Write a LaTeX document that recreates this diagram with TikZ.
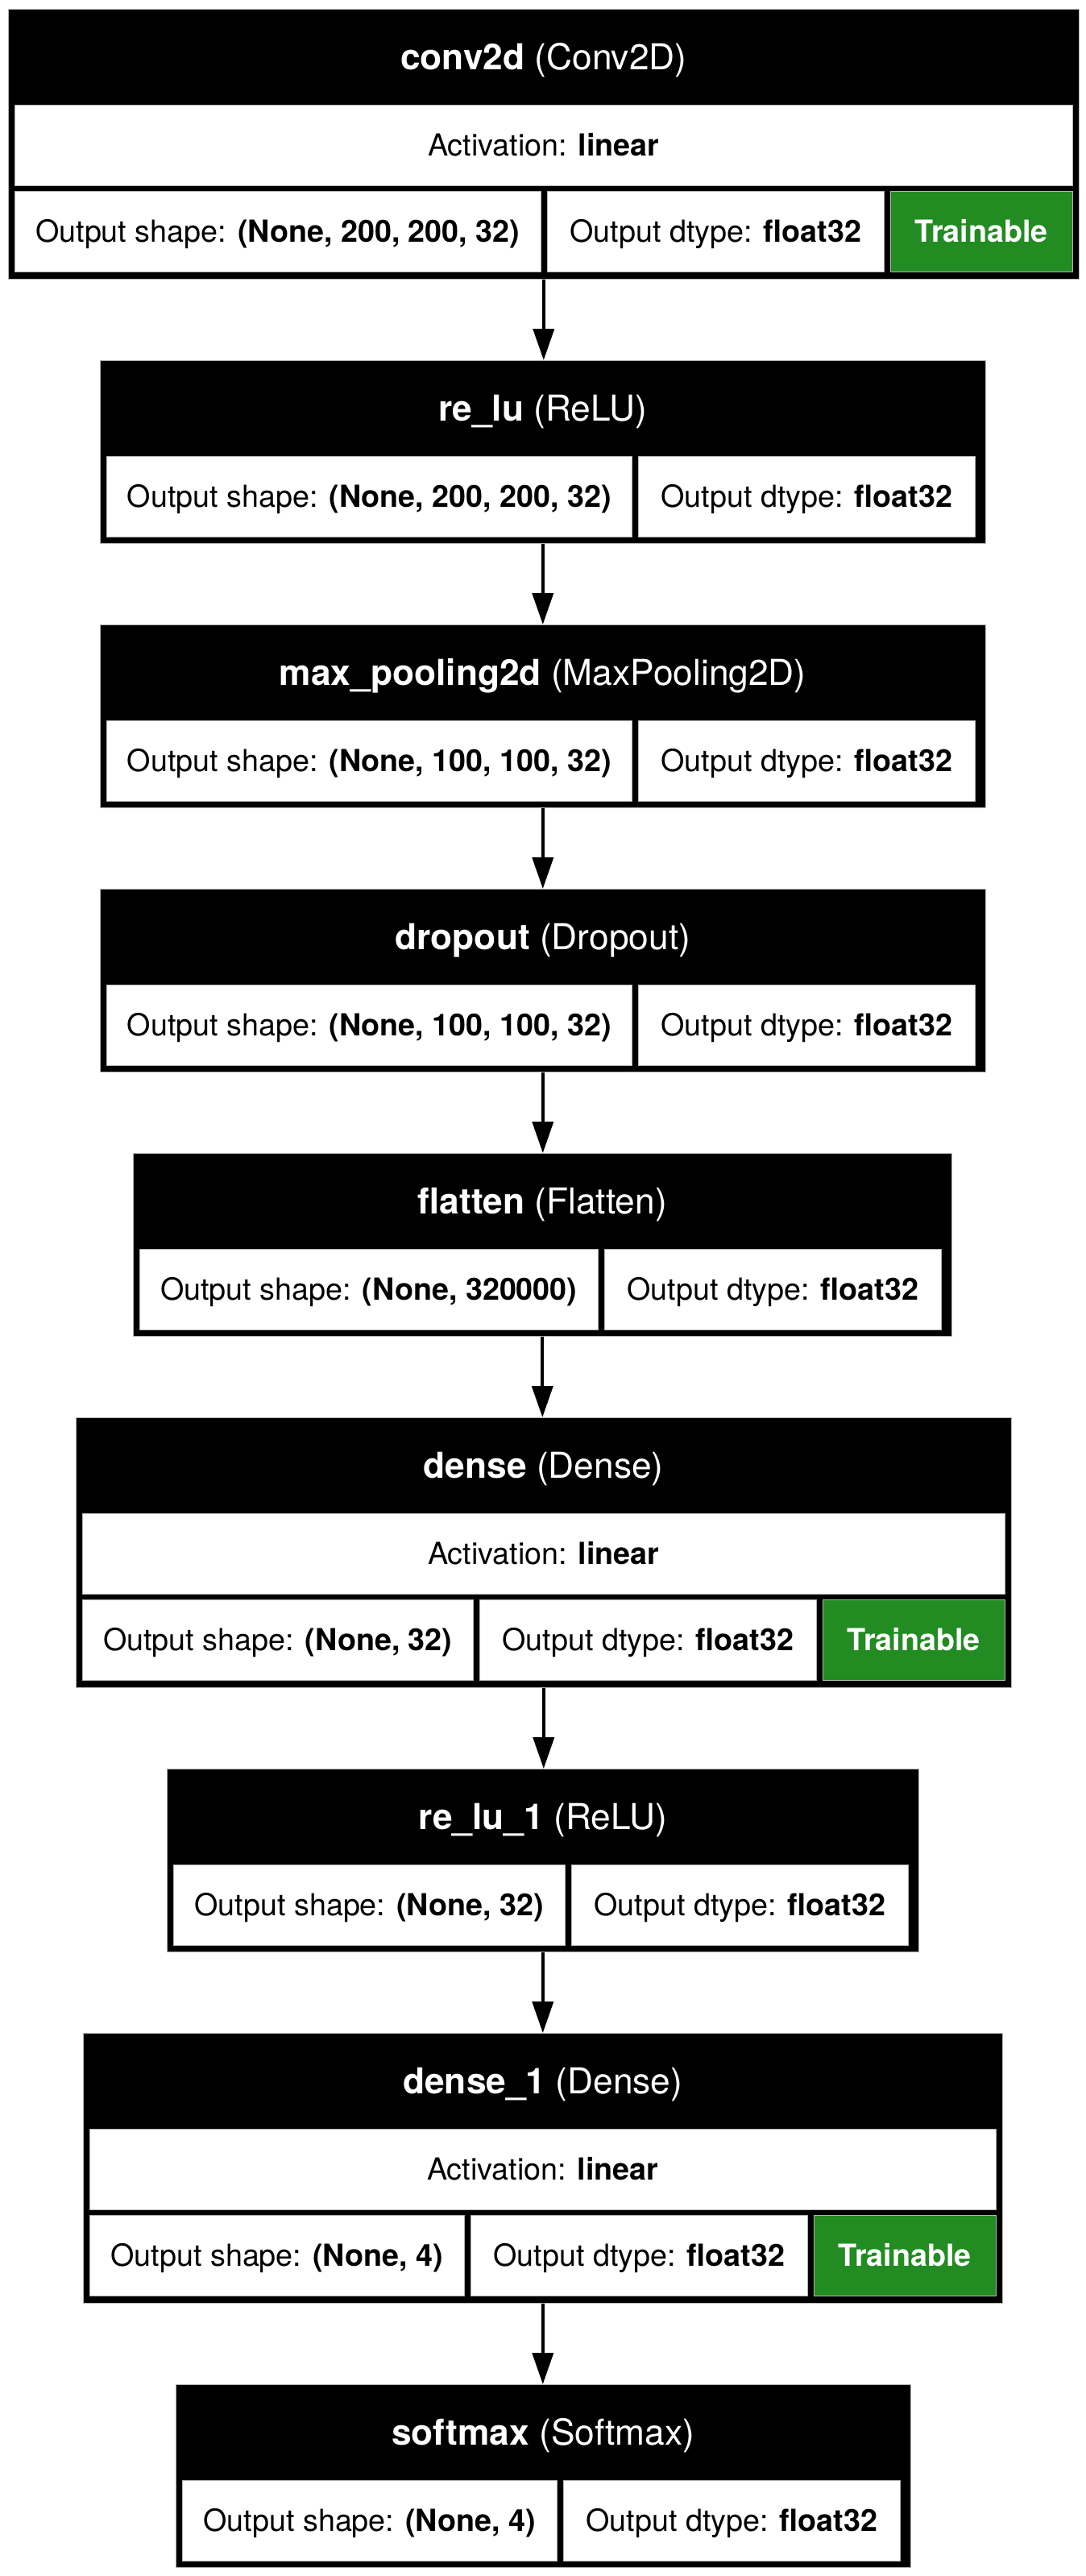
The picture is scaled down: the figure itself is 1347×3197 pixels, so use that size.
\documentclass[tikz,border=0pt]{standalone}
\usepackage{fontspec}
\setmainfont{TeX Gyre Heros}
\usetikzlibrary{arrows.meta}
\definecolor{trainfill}{RGB}{34,139,34}
\newcommand\bodyfont{\fontsize{37.7pt}{44pt}\selectfont}
\newcommand\headfont{\fontsize{44.3pt}{52pt}\selectfont}
\tikzset{
  layer/.style={fill=black, draw=gray!60, line width=0.6pt, inner sep=0pt, anchor=north west},
  header/.style={text=white, font=\headfont, inner sep=0pt, anchor=north,
    minimum height=119pt, text height=31.9pt, text depth=0pt},
  cell/.style={fill=white, draw=gray!60, line width=0.6pt, inner sep=0pt, anchor=north west,
    font=\bodyfont, text height=27.1pt, text depth=0pt, minimum height=100pt},
  trainbox/.style={cell, fill=trainfill, text=white},
  flow/.style={-{Triangle[length=39pt,width=26pt]}, line width=4pt},
}
\begin{document}
\begin{tikzpicture}[x=1pt, y=-1pt]
  \useasboundingbox (0,0) rectangle (1347,3197);
  % layers: name / type / top / left of first cell / shape cell width / height / shape
  \def\layers {conv2d/Conv2D/11/18/653/335/{(None, 200, 200, 32)},
               re\_lu/ReLU/447/132/652/227/{(None, 200, 200, 32)},
               max\_pooling2d/MaxPooling2D/775/132/652/227/{(None, 100, 100, 32)},
               dropout/Dropout/1103/132/652/227/{(None, 100, 100, 32)},
               flatten/Flatten/1431/173/569/227/{(None, 320000)},
               dense/Dense/1759/102/485/335/{(None, 32)},
               re\_lu\_1/ReLU/2195/215/486/227/{(None, 32)},
               dense\_1/Dense/2523/111/465/335/{(None, 4)},
               softmax/Softmax/2959/226/465/227/{(None, 4)}};
  % draw layer boxes and their cells
  \foreach \lname/\ltype/\ytop/\il/\ws/\lh/\oshape [count=\i] in \layers
  {
    \pgfmathsetmacro\lw{\lh>300 ? \ws+676 : \ws+447}
    \pgfmathsetmacro\by{\lh>300 ? \ytop+226 : \ytop+119}
    \pgfmathsetmacro\xd{\il+\ws+8}
    \node[layer, minimum width=\lw pt, minimum height=\lh pt] (l_\i) at (\il-8,\ytop) {};
    \node[header] (h_\i) at (l_\i.north) {\textbf{\lname} (\ltype)};
    \node[cell, minimum width=\ws pt] (s_\i) at (\il,\by) {Output shape: \textbf{\oshape}};
    \node[cell, minimum width=418pt] (d_\i) at (\xd,\by) {Output dtype: \textbf{float32}};
    \ifnum\lh>300
      \node[cell, minimum width=\ws pt+660pt] (a_\i) at (\il,\ytop+119) {Activation: \textbf{linear}};
      \node[trainbox, minimum width=226pt] (t_\i) at (\xd+426,\by) {\textbf{Trainable}};
    \fi
  }
  % edges
  \foreach \i [evaluate=\i as \j using int(\i+1)] in {1,...,8}
  {
    \draw[flow] (l_\i.south) -- (l_\i.south |- l_\j.north);
  }
\end{tikzpicture}
\end{document}
